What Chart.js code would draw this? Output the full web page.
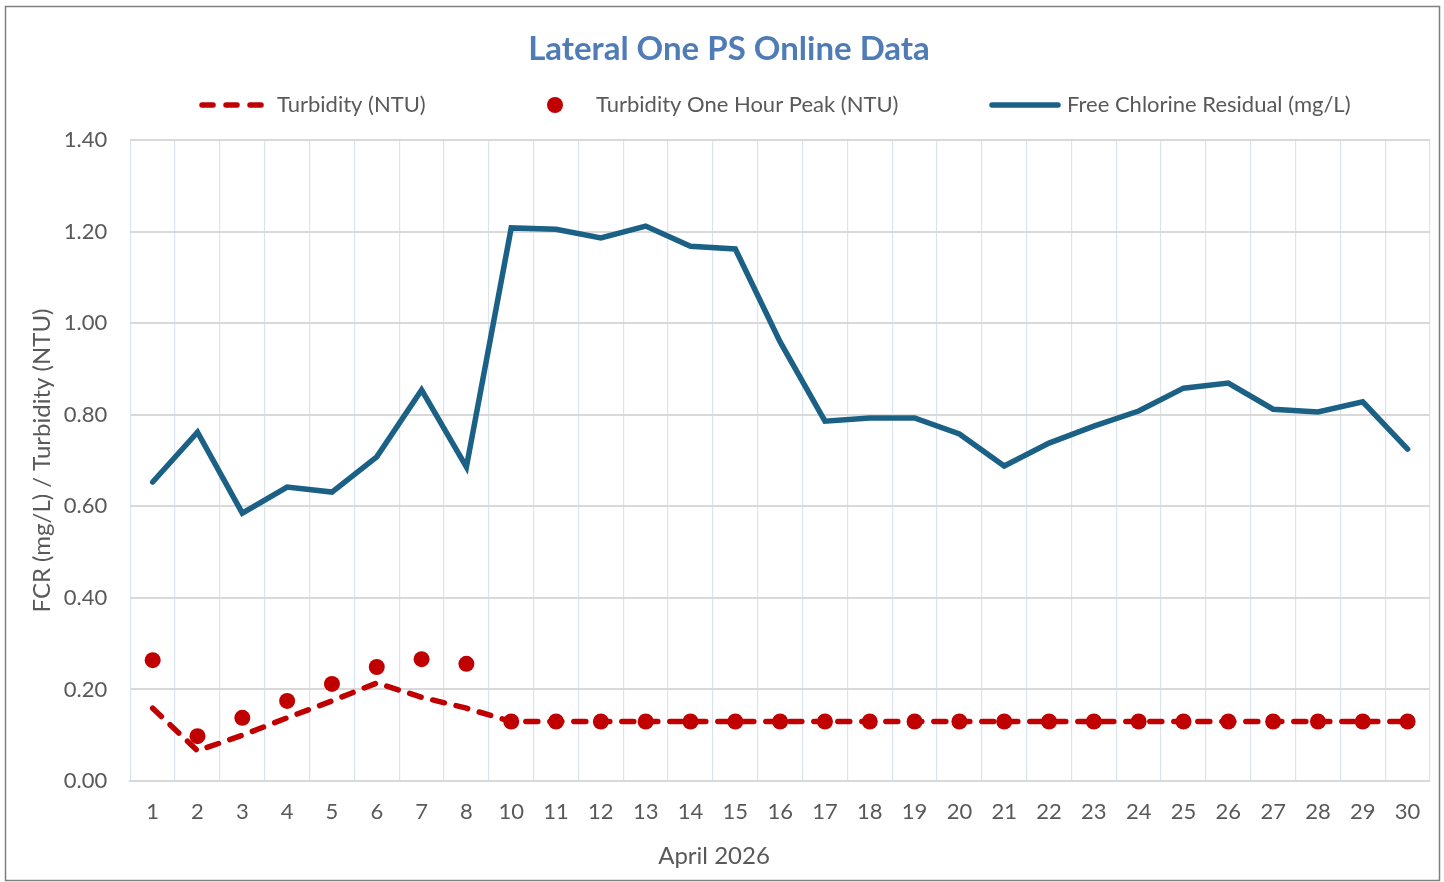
<!DOCTYPE html>
<html>
<head>
<meta charset="utf-8">
<script src="https://cdn.jsdelivr.net/npm/chart.js@4.4.1/dist/chart.umd.min.js"></script>
<style>
  html, body { margin: 0; padding: 0; background: #ffffff; }
  #wrap { position: relative; width: 1444px; height: 882px; }
</style>
</head>
<body>
<div id="wrap"><canvas id="chart"></canvas></div>
<script>
'use strict';

// ─── Datos ───────────────────────────────────────────────────────────────────
const DIAS = ['1', '2', '3', '4', '5', '6', '7', '8', '10', '11', '12', '13', '14', '15',
    '16', '17', '18', '19', '20', '21', '22', '23', '24', '25', '26', '27', '28', '29', '30'];

const TURBIDEZ = [0.159, 0.066, 0.100, 0.138, 0.175, 0.214, 0.183, 0.159,
    0.13, 0.13, 0.13, 0.13, 0.13, 0.13, 0.13, 0.13, 0.13, 0.13, 0.13, 0.13,
    0.13, 0.13, 0.13, 0.13, 0.13, 0.13, 0.13, 0.13, 0.13];

const TURBIDEZ_PICO = [0.264, 0.098, 0.138, 0.175, 0.212, 0.249, 0.266, 0.256,
    0.13, 0.13, 0.13, 0.13, 0.13, 0.13, 0.13, 0.13, 0.13, 0.13, 0.13, 0.13,
    0.13, 0.13, 0.13, 0.13, 0.13, 0.13, 0.13, 0.13, 0.13];

const CLORO = [0.653, 0.762, 0.585, 0.642, 0.631, 0.708, 0.854, 0.686,
    1.208, 1.205, 1.186, 1.212, 1.168, 1.162, 0.959, 0.786, 0.793, 0.793,
    0.758, 0.688, 0.738, 0.775, 0.808, 0.858, 0.869, 0.812, 0.806, 0.828, 0.725];

const Y_TICKS = [0, 0.2, 0.4, 0.6, 0.8, 1.0, 1.2, 1.4];

const TITULO_X = 'April 2026';

// ─── Estilo ──────────────────────────────────────────────────────────────────
const FUENTE = "Lato, 'Open Sans', sans-serif";
const GRIS_TEXTO = '#595959';
const COLORS = {
    turbidez: '#c00000',
    cloro: '#1a6185',
    titulo: '#4f7bb6',
    gridH: '#d9d9d9',
    gridV: '#dae3f2',
};

// posiciones x de la leyenda (símbolo inicio, símbolo fin, texto)
const LEYENDA_X = [[202, 264, 277], [555, 555, 596], [992, 1058, 1067]];
const LEYENDA_Y = 105;
// el título del eje X va centrado en el marco, como en Excel
const TITULO_X_POS = [714, 856];

// ─── Plugins ─────────────────────────────────────────────────────────────────
const marcoPlugin = {
    id: 'marco',
    beforeDraw(chart) {
        const ctx = chart.ctx;
        ctx.save();
        ctx.fillStyle = '#ffffff';
        ctx.fillRect(0, 0, chart.width, chart.height);
        ctx.strokeStyle = '#7f7f7f';
        ctx.lineWidth = 1.5;
        ctx.strokeRect(5.5, 6.5, 1434, 874);
        ctx.restore();
    },
};

const leyendaPlugin = {
    id: 'leyenda',
    afterDraw(chart) {
        const ctx = chart.ctx;
        ctx.save();
        ctx.font = `22px ${FUENTE}`;
        ctx.textBaseline = 'middle';
        chart.data.datasets.forEach((ds, i) => {
            const [x0, x1, xt] = LEYENDA_X[i];
            if (ds.showLine === false) {
                ctx.fillStyle = ds.pointBackgroundColor;
                ctx.beginPath();
                ctx.arc(x0, LEYENDA_Y, ds.pointRadius, 0, Math.PI * 2);
                ctx.fill();
            } else {
                ctx.strokeStyle = ds.borderColor;
                ctx.lineWidth = ds.borderWidth;
                ctx.lineCap = 'round';
                ctx.setLineDash(ds.borderDash ? [11, 13] : []);
                ctx.beginPath();
                ctx.moveTo(x0, LEYENDA_Y);
                ctx.lineTo(x1, LEYENDA_Y);
                ctx.stroke();
                ctx.setLineDash([]);
            }
            ctx.fillStyle = GRIS_TEXTO;
            ctx.fillText(ds.label, xt, LEYENDA_Y);
        });

        // título del eje X
        ctx.font = `24px ${FUENTE}`;
        ctx.textAlign = 'center';
        ctx.fillStyle = GRIS_TEXTO;
        ctx.fillText(TITULO_X, TITULO_X_POS[0], TITULO_X_POS[1]);
        ctx.restore();
    },
};

// ─── Gráfico ─────────────────────────────────────────────────────────────────
new Chart(document.getElementById('chart'), {
    type: 'line',
    data: {
        labels: DIAS,
        datasets: [
            {
                label: 'Turbidity (NTU)',
                data: TURBIDEZ,
                borderColor: COLORS.turbidez,
                borderWidth: 5.5,
                borderDash: [12, 12],
                borderCapStyle: 'round',
                pointRadius: 0,
                fill: false,
                order: 1,
            },
            {
                label: 'Turbidity One Hour Peak (NTU)',
                data: TURBIDEZ_PICO,
                showLine: false,
                pointRadius: 8,
                pointBackgroundColor: COLORS.turbidez,
                pointBorderWidth: 0,
                borderColor: COLORS.turbidez,
                order: 0,
            },
            {
                label: 'Free Chlorine Residual (mg/L)',
                data: CLORO,
                borderColor: COLORS.cloro,
                borderWidth: 5.5,
                borderJoinStyle: 'miter',
                borderCapStyle: 'round',
                pointRadius: 0,
                fill: false,
                order: 2,
            },
        ],
    },
    options: {
        responsive: true,
        maintainAspectRatio: false,
        animation: false,
        layout: { padding: { top: 0, left: 28, right: 14, bottom: 38.6 } },
        plugins: {
            legend: { display: false },
            tooltip: { enabled: false },
            title: {
                display: true,
                text: 'Lateral One PS Online Data',
                color: COLORS.titulo,
                font: { family: FUENTE, size: 33, weight: 'bold' },
                padding: { top: 30, bottom: 70.4 },
            },
        },
        scales: {
            x: {
                offset: true,
                grid: { color: COLORS.gridV, lineWidth: 1.2, drawTicks: false, offset: true },
                border: { color: COLORS.gridH, width: 2 },
                ticks: { color: GRIS_TEXTO, font: { family: FUENTE, size: 22 }, padding: 18, maxRotation: 0, autoSkip: false },
                title: { display: false },
            },
            y: {
                min: 0,
                max: 1.4,
                afterBuildTicks: axis => { axis.ticks = Y_TICKS.map(v => ({ value: v })); },
                grid: { color: COLORS.gridH, lineWidth: 2, drawTicks: false },
                border: { display: false },
                ticks: {
                    color: GRIS_TEXTO,
                    font: { family: FUENTE, size: 22 },
                    padding: 23,
                    callback: v => Number(v).toFixed(2),
                },
                title: {
                    display: true,
                    text: 'FCR (mg/L) / Turbidity (NTU)',
                    color: GRIS_TEXTO,
                    font: { family: FUENTE, size: 24 },
                    padding: { top: 0, bottom: -16 },
                },
            },
        },
    },
    plugins: [marcoPlugin, leyendaPlugin],
});
</script>
</body>
</html>
